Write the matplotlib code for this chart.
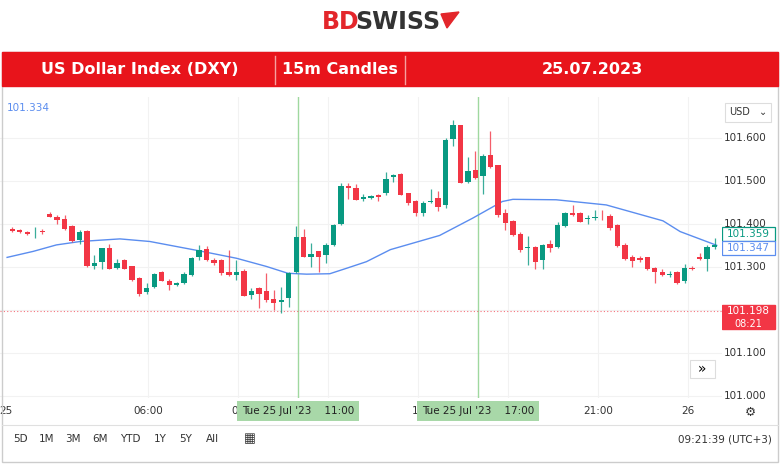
import matplotlib
matplotlib.use("Agg")
import matplotlib.pyplot as plt
from matplotlib.patches import Rectangle, Polygon
import numpy as np

# ── 数据 ──────────────────────────────────────────────────────────
opens = [101.388, 101.385, 101.381, 101.380, 101.383, 101.423, 101.416, 101.411, 101.394, 101.363,
         101.384, 101.302, 101.312, 101.345, 101.297, 101.315, 101.301, 101.275, 101.241, 101.252,
         101.288, 101.268, 101.258, 101.262, 101.281, 101.322, 101.342, 101.316, 101.315, 101.288,
         101.281, 101.291, 101.235, 101.250, 101.243, 101.226, 101.219, 101.227, 101.288, 101.369,
         101.323, 101.336, 101.328, 101.351, 101.399, 101.489, 101.484, 101.457, 101.460, 101.467,
         101.471, 101.508, 101.516, 101.471, 101.452, 101.425, 101.450, 101.460, 101.444, 101.598,
         101.630, 101.497, 101.526, 101.512, 101.560, 101.536, 101.426, 101.407, 101.376, 101.343,
         101.347, 101.316, 101.353, 101.346, 101.395, 101.426, 101.425, 101.411, 101.413, 101.417,
         101.419, 101.398, 101.351, 101.324, 101.320, 101.322, 101.298, 101.287, 101.281, 101.287,
         101.266, 101.298, 101.324, 101.318, 101.346]
closes = [101.384, 101.381, 101.377, 101.381, 101.381, 101.417, 101.409, 101.388, 101.360, 101.381,
          101.303, 101.310, 101.343, 101.295, 101.310, 101.296, 101.270, 101.236, 101.250, 101.283,
          101.267, 101.258, 101.262, 101.284, 101.320, 101.340, 101.316, 101.310, 101.285, 101.281,
          101.288, 101.233, 101.243, 101.237, 101.222, 101.217, 101.224, 101.285, 101.369, 101.324,
          101.330, 101.324, 101.350, 101.398, 101.487, 101.483, 101.456, 101.463, 101.465, 101.462,
          101.504, 101.514, 101.467, 101.448, 101.425, 101.448, 101.454, 101.440, 101.595, 101.630,
          101.495, 101.523, 101.506, 101.557, 101.533, 101.421, 101.403, 101.374, 101.340, 101.347,
          101.312, 101.350, 101.343, 101.398, 101.425, 101.421, 101.405, 101.413, 101.415, 101.415,
          101.391, 101.349, 101.319, 101.314, 101.316, 101.295, 101.287, 101.281, 101.284, 101.262,
          101.297, 101.295, 101.319, 101.347, 101.350]
highs = [101.392, 101.388, 101.383, 101.392, 101.389, 101.427, 101.421, 101.421, 101.397, 101.385,
         101.385, 101.327, 101.345, 101.352, 101.318, 101.319, 101.303, 101.277, 101.262, 101.285,
         101.290, 101.272, 101.265, 101.288, 101.322, 101.350, 101.348, 101.320, 101.318, 101.339,
         101.315, 101.294, 101.250, 101.254, 101.286, 101.246, 101.252, 101.289, 101.394, 101.388,
         101.355, 101.338, 101.355, 101.400, 101.496, 101.495, 101.492, 101.470, 101.468, 101.470,
         101.520, 101.516, 101.518, 101.472, 101.455, 101.452, 101.480, 101.477, 101.600, 101.641,
         101.631, 101.555, 101.569, 101.563, 101.615, 101.538, 101.435, 101.409, 101.380, 101.372,
         101.349, 101.352, 101.362, 101.405, 101.427, 101.443, 101.427, 101.420, 101.432, 101.432,
         101.422, 101.400, 101.355, 101.328, 101.325, 101.324, 101.300, 101.295, 101.290, 101.290,
         101.306, 101.301, 101.332, 101.350, 101.367]
lows = [101.380, 101.379, 101.375, 101.368, 101.377, 101.415, 101.400, 101.386, 101.358, 101.352,
        101.300, 101.294, 101.295, 101.294, 101.294, 101.294, 101.268, 101.233, 101.238, 101.250,
        101.266, 101.247, 101.256, 101.260, 101.279, 101.316, 101.314, 101.305, 101.280, 101.279,
        101.270, 101.232, 101.225, 101.205, 101.218, 101.200, 101.193, 101.207, 101.286, 101.324,
        101.300, 101.288, 101.310, 101.349, 101.398, 101.458, 101.455, 101.452, 101.457, 101.452,
        101.468, 101.497, 101.466, 101.443, 101.419, 101.419, 101.448, 101.430, 101.438, 101.581,
        101.494, 101.494, 101.505, 101.470, 101.531, 101.417, 101.385, 101.372, 101.335, 101.305,
        101.296, 101.296, 101.335, 101.344, 101.393, 101.418, 101.404, 101.400, 101.408, 101.410,
        101.385, 101.347, 101.317, 101.300, 101.312, 101.293, 101.262, 101.279, 101.277, 101.260,
        101.262, 101.292, 101.315, 101.290, 101.341]

ma_idx = [0.3, 3.8, 6.9, 10.1, 15.4, 19.4, 26.1, 31.0, 35.0, 37.9, 40.4, 43.5, 45.8, 48.4,
          51.6, 58.2, 62.6, 66.6, 68.0, 73.8, 80.5, 88.1, 90.4, 95.3]
ma_val = [101.322, 101.336, 101.351, 101.359, 101.365, 101.359, 101.337, 101.320, 101.301,
          101.285, 101.283, 101.284, 101.297, 101.312, 101.340, 101.373, 101.413, 101.452,
          101.457, 101.456, 101.444, 101.407, 101.382, 101.350]

price_ticks = [101.0, 101.1, 101.3, 101.4, 101.5, 101.6]
time_labels = ["25", "06:00", "09", "15", "21:00", "26"]
time_hours = [0, 6, 9, 15, 21, 24]
marker_hours = [11, 17]
last_price = 101.198

GREEN = "#089981"
RED = "#f23645"
BLUE = "#5b8def"

W, H = 780, 467
fig = plt.figure(figsize=(W / 100, H / 100), dpi=100)
fig.patch.set_facecolor("white")


def px(x0, y0, x1, y1):
    return [x0 / W, 1 - y1 / H, (x1 - x0) / W, (y1 - y0) / H]


# ── 页眉 ──────────────────────────────────────────────────────────
fig.text(322 / W, 1 - 22 / H, "BD", color="#e3262b", fontsize=17, fontweight="bold",
         va="center", ha="left")
fig.text(355 / W, 1 - 22 / H, "SWISS", color="#333333", fontsize=17, fontweight="bold",
         va="center", ha="left")
fig.patches.append(Polygon([(441 / W, 1 - 14 / H), (459 / W, 1 - 12 / H), (447 / W, 1 - 28 / H)],
                           closed=True, color="#e3262b", transform=fig.transFigure))

fig.patches.append(Rectangle((2 / W, 1 - 462 / H), 776 / W, 410 / H, fill=False,
                             edgecolor="#cccccc", lw=1, transform=fig.transFigure))
fig.patches.append(Rectangle((2 / W, 1 - 86 / H), 776 / W, 34 / H, color="#e8141b",
                             transform=fig.transFigure))
for xs in [275, 405]:
    fig.lines.append(plt.Line2D([xs / W, xs / W], [1 - 56 / H, 1 - 84 / H], color="#f6a0a0",
                                lw=1, transform=fig.transFigure))
for xt, t in [(140, "US Dollar Index (DXY)"), (340, "15m Candles"), (592, "25.07.2023")]:
    fig.text(xt / W, 1 - 70 / H, t, color="white", fontsize=11.5, fontweight="bold",
             ha="center", va="center")

# ── 主图 ──────────────────────────────────────────────────────────
ax = fig.add_axes(px(0, 97, 722, 398))
idx = np.arange(1, len(opens) + 1)
o, c, h, l = map(np.array, (opens, closes, highs, lows))
up = c >= o
cols = np.where(up, GREEN, RED)
ax.vlines(idx, l, h, colors=cols, lw=0.9, alpha=0.8, zorder=3)
ax.bar(idx, np.maximum(np.abs(c - o), 0.0015), bottom=np.minimum(o, c), width=0.72,
       color=cols, zorder=4)
ax.plot(ma_idx, ma_val, color=BLUE, lw=1, zorder=2, solid_joinstyle="round")

hour_to_idx = lambda hr: -4.9 + 4.016 * hr
for pt in price_ticks + [101.2]:
    ax.axhline(pt, color="#f2f2f2", lw=0.8, zorder=0)
for hr in time_hours + [12, 18]:
    ax.axvline(hour_to_idx(hr), color="#f2f2f2", lw=0.8, zorder=0)
for hr in marker_hours:
    ax.axvline(hour_to_idx(hr), color="#9fd89f", lw=1, zorder=1)
ax.axhline(last_price, color=RED, lw=0.8, ls=(0, (1, 2)), alpha=0.7, zorder=1)

ax.set_xlim(-0.65, 96.0)
ax.set_ylim(100.995, 101.695)
ax.set_xticks([])
ax.set_yticks([])
for s in ax.spines.values():
    s.set_visible(False)
ax.text(0.01, 0.98, "101.334", transform=ax.transAxes, color=BLUE, fontsize=7.5,
        va="top", ha="left")
ax.add_patch(Rectangle((0.955, 0.065), 0.035, 0.06, transform=ax.transAxes, fc="white",
                       ec="#dddddd", lw=0.8, zorder=6))
ax.text(0.9725, 0.095, "»", transform=ax.transAxes, fontsize=10, ha="center", va="center",
        zorder=7)

# 价格轴
pax = fig.add_axes(px(722, 97, 780, 398))
pax.set_xlim(0, 1)
pax.set_ylim(100.995, 101.695)
pax.axis("off")
for pt in price_ticks:
    pax.text(0.4, pt, f"{pt:.3f}", fontsize=7.5, color="#333333", ha="center", va="center")
pax.add_patch(Rectangle((0.05, 101.637), 0.8, 0.045, fc="white", ec="#dddddd", lw=0.8))
pax.text(0.12, 101.659, "USD", fontsize=7, va="center", color="#333333")
pax.text(0.78, 101.661, "⌄", fontsize=7, va="center", ha="right", color="#333333")
for val, col in [(101.359, GREEN), (101.347, BLUE)]:
    off = 0.017 if col == GREEN else -0.003
    pax.add_patch(Rectangle((0.0, val + off - 0.016), 0.92, 0.032, fc="white", ec=col, lw=0.9))
    pax.text(0.46, val + off, f"{val:.3f}", fontsize=7.5, color=col, ha="center", va="center")
pax.add_patch(Rectangle((0.0, last_price - 0.042), 0.92, 0.055, fc=RED, ec=RED))
pax.text(0.46, last_price, f"{last_price:.3f}", fontsize=7.5, color="white", ha="center",
         va="center")
pax.text(0.46, last_price - 0.03, "08:21", fontsize=7, color="white", ha="center", va="center")

# 时间轴
tax = fig.add_axes(px(0, 398, 722, 424))
tax.set_xlim(-0.65, 96.0)
tax.set_ylim(0, 1)
tax.axis("off")
for hr, lab in zip(time_hours, time_labels):
    xi = max(hour_to_idx(hr), 0.2)
    tax.text(xi, 0.5, lab, fontsize=7.5, color="#333333", ha="center", va="center", zorder=1)
for hr in marker_hours:
    tax.text(hour_to_idx(hr), 0.5, f"Tue 25 Jul '23    {hr}:00", fontsize=7.5,
             color="#222222", ha="center", va="center", zorder=5,
             bbox=dict(boxstyle="square,pad=0.45", fc="#a8d8a8", ec="none"))
fig.text(750 / W, 1 - 412 / H, "⚙", fontsize=9, color="#333333", ha="center", va="center")

# 底部工具栏
fig.lines.append(plt.Line2D([2 / W, 778 / W], [1 - 425 / H, 1 - 425 / H], color="#e0e0e0",
                            lw=0.8, transform=fig.transFigure))
for xt, t in [(20, "5D"), (47, "1M"), (73, "3M"), (100, "6M"), (130, "YTD"), (160, "1Y"),
              (186, "5Y"), (212, "All")]:
    fig.text(xt / W, 1 - 439 / H, t, fontsize=7.5, color="#333333", ha="center", va="center")
fig.text(250 / W, 1 - 439 / H, "▦", fontsize=9, color="#333333", ha="center", va="center")
fig.text(772 / W, 1 - 439 / H, "09:21:39 (UTC+3)", fontsize=7.5, color="#333333",
         ha="right", va="center")

fig.savefig("out.png", dpi=100, facecolor="white")
